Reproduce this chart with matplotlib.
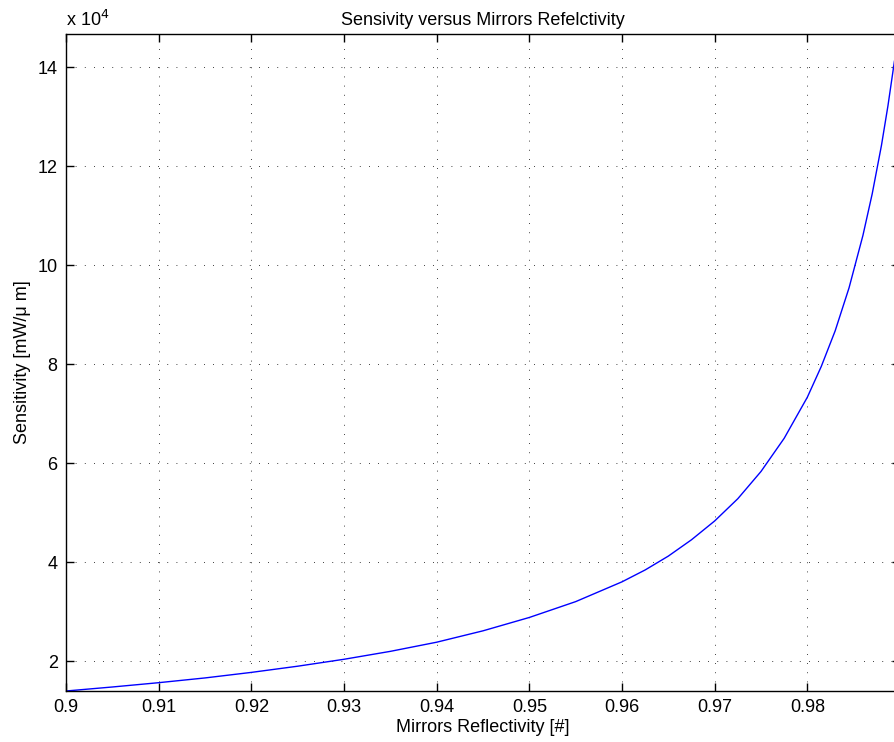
import numpy as np
import matplotlib
matplotlib.use("Agg")
import matplotlib.pyplot as plt
from matplotlib.ticker import FuncFormatter

plt.rcParams['font.family'] = ['Liberation Sans', 'DejaVu Sans']

# Data (sensitivity in units of 1e4 mW/um)
reflectivity = [0.900, 0.905, 0.910, 0.915, 0.920, 0.925, 0.930, 0.935, 0.940,
                0.945, 0.950, 0.955, 0.960, 0.9625, 0.965, 0.9675, 0.970, 0.9725,
                0.975, 0.9775, 0.980, 0.9815, 0.983, 0.9845, 0.986, 0.987, 0.988,
                0.9887, 0.9894]
sensitivity_e4 = [1.394, 1.475, 1.562, 1.658, 1.77, 1.895, 2.035, 2.195, 2.38,
                  2.61, 2.88, 3.20, 3.60, 3.84, 4.12, 4.45, 4.83, 5.28,
                  5.83, 6.50, 7.33, 7.95, 8.67, 9.54, 10.60, 11.44, 12.42,
                  13.22, 14.12]
yticks_e4 = [2, 4, 6, 8, 10, 12, 14]
xticks = [0.90, 0.91, 0.92, 0.93, 0.94, 0.95, 0.96, 0.97, 0.98]

x = np.array(reflectivity)
y = np.array(sensitivity_e4) * 1e4

fig = plt.figure(figsize=(8.94, 7.42), dpi=100)
# axes runs a little past the right edge of the figure, like the cropped original
ax = fig.add_axes([66/894, 1 - 691/742, 834/894, (691 - 33.5)/742])

ax.plot(x, y, color=(0, 0, 1), lw=1.0)

ax.set_xlim(0.9, 0.99)
ax.set_ylim(1.394e4, 14.68e4)
ax.set_xticks(xticks)
ax.set_xticklabels([('%g' % t) for t in xticks])
ax.set_yticks([v * 1e4 for v in yticks_e4])
ax.yaxis.set_major_formatter(FuncFormatter(lambda v, p: '%g' % (v / 1e4)))

ax.grid(True, color='black', linestyle=(0, (1, 10)), lw=0.6)
ax.tick_params(direction='in', length=6, width=1, top=True, right=True,
               labelsize=13, pad=6, colors='black')
for s in ax.spines.values():
    s.set_linewidth(1.0)

ax.set_title('Sensivity versus Mirrors Refelctivity', fontsize=13, pad=6)
ax.set_xlabel('Mirrors Reflectivity [#]', fontsize=13, labelpad=2)
ax.set_ylabel('Sensitivity [mW/\u03bc m]', fontsize=13, labelpad=5)
fig.text(66/894, 1 - 20/742, 'x 10$^{4}$', fontsize=13, ha='left', va='center')

fig.savefig('out.png', dpi=100)
